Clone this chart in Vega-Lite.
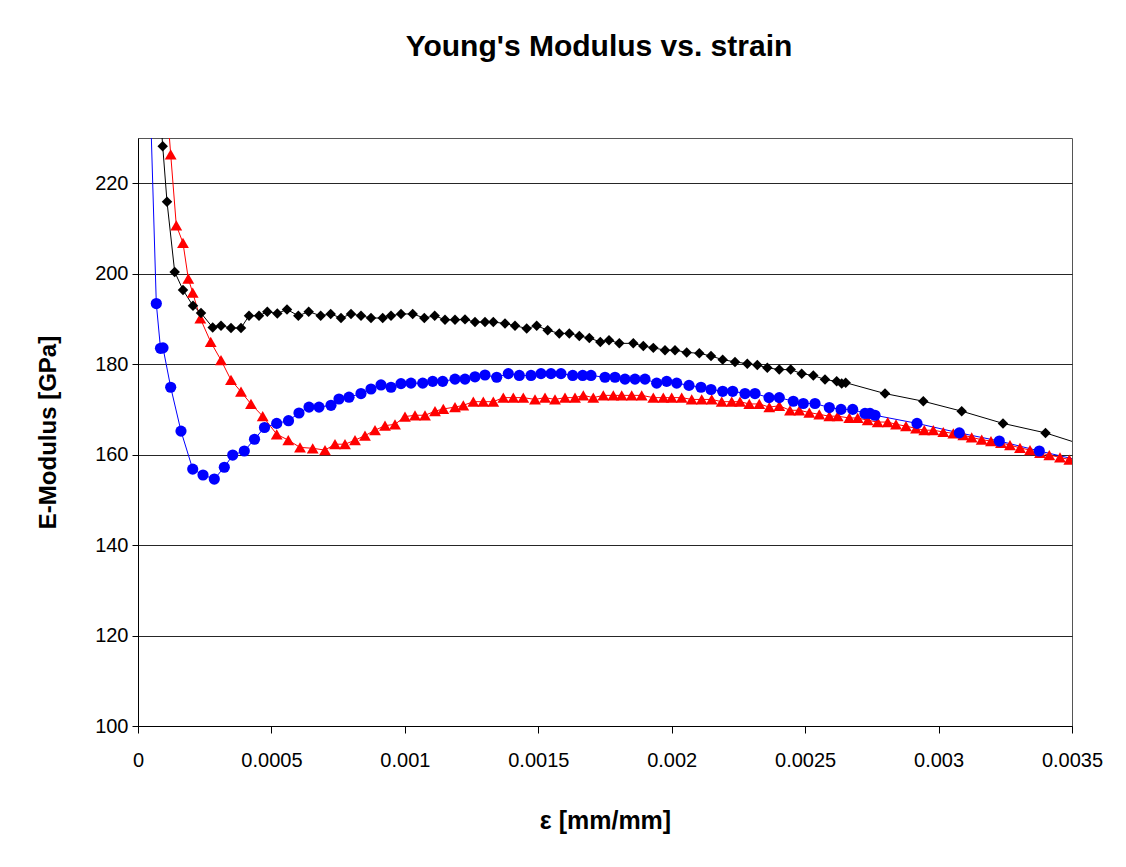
{
  "$schema": "https://vega.github.io/schema/vega-lite/v6.json",
  "width": 934,
  "height": 588,
  "autosize": {"type": "none"},
  "padding": {"left": 138, "top": 138, "right": 54, "bottom": 141},
  "background": "white",
  "title": {"text": "Young's Modulus vs. strain", "font": "Liberation Sans", "fontSize": 30, "fontWeight": "bold", "color": "#000000", "anchor": "middle", "frame": "group", "offset": 76, "dx": -6},
  "config": {
    "view": {"stroke": "#555555", "strokeWidth": 1},
    "axis": {"labelFont": "Liberation Sans", "titleFont": "Liberation Sans", "labelColor": "#000000", "titleColor": "#000000", "domainColor": "#000000", "tickColor": "#000000", "domainWidth": 1, "tickWidth": 1}
  },
  "data": {"values": [
    {"s": "red", "x": 0.0001049, "E": 240},
    {"s": "red", "x": 0.0001225, "E": 226.4},
    {"s": "red", "x": 0.0001435, "E": 210.7},
    {"s": "red", "x": 0.0001686, "E": 206.8},
    {"s": "red", "x": 0.0001885, "E": 198.9},
    {"s": "red", "x": 0.0002050, "E": 195.8},
    {"s": "red", "x": 0.0002335, "E": 190.1},
    {"s": "red", "x": 0.0002724, "E": 184.9},
    {"s": "red", "x": 0.0003110, "E": 180.9},
    {"s": "red", "x": 0.0003485, "E": 176.5},
    {"s": "red", "x": 0.0003860, "E": 173.9},
    {"s": "red", "x": 0.0004234, "E": 171.2},
    {"s": "red", "x": 0.0004673, "E": 168.5},
    {"s": "red", "x": 0.0005198, "E": 164.5},
    {"s": "red", "x": 0.0005632, "E": 163.2},
    {"s": "red", "x": 0.0006071, "E": 161.6},
    {"s": "red", "x": 0.0006547, "E": 161.4},
    {"s": "red", "x": 0.0007008, "E": 161.0},
    {"s": "red", "x": 0.0007382, "E": 162.3},
    {"s": "red", "x": 0.0007757, "E": 162.3},
    {"s": "red", "x": 0.0008132, "E": 163.2},
    {"s": "red", "x": 0.0008506, "E": 164.2},
    {"s": "red", "x": 0.0008881, "E": 165.4},
    {"s": "red", "x": 0.0009256, "E": 166.4},
    {"s": "red", "x": 0.0009631, "E": 166.7},
    {"s": "red", "x": 0.0010005, "E": 168.4},
    {"s": "red", "x": 0.0010380, "E": 168.7},
    {"s": "red", "x": 0.0010755, "E": 168.7},
    {"s": "red", "x": 0.0011130, "E": 169.6},
    {"s": "red", "x": 0.0011441, "E": 170.1},
    {"s": "red", "x": 0.0011879, "E": 170.5},
    {"s": "red", "x": 0.0012190, "E": 170.9},
    {"s": "red", "x": 0.0012565, "E": 171.7},
    {"s": "red", "x": 0.0012939, "E": 171.7},
    {"s": "red", "x": 0.0013314, "E": 171.7},
    {"s": "red", "x": 0.0013689, "E": 172.6},
    {"s": "red", "x": 0.0014064, "E": 172.6},
    {"s": "red", "x": 0.0014438, "E": 172.6},
    {"s": "red", "x": 0.0014877, "E": 172.2},
    {"s": "red", "x": 0.0015252, "E": 172.6},
    {"s": "red", "x": 0.0015626, "E": 172.2},
    {"s": "red", "x": 0.0016001, "E": 172.6},
    {"s": "red", "x": 0.0016376, "E": 172.6},
    {"s": "red", "x": 0.0016687, "E": 173.1},
    {"s": "red", "x": 0.0017061, "E": 172.6},
    {"s": "red", "x": 0.0017436, "E": 173.1},
    {"s": "red", "x": 0.0017811, "E": 173.1},
    {"s": "red", "x": 0.0018126, "E": 173.1},
    {"s": "red", "x": 0.0018500, "E": 173.1},
    {"s": "red", "x": 0.0018875, "E": 173.1},
    {"s": "red", "x": 0.0019310, "E": 172.6},
    {"s": "red", "x": 0.0019685, "E": 172.6},
    {"s": "red", "x": 0.0019999, "E": 172.6},
    {"s": "red", "x": 0.0020374, "E": 172.6},
    {"s": "red", "x": 0.0020749, "E": 172.2},
    {"s": "red", "x": 0.0021124, "E": 172.2},
    {"s": "red", "x": 0.0021498, "E": 172.2},
    {"s": "red", "x": 0.0021873, "E": 171.7},
    {"s": "red", "x": 0.0022248, "E": 171.7},
    {"s": "red", "x": 0.0022559, "E": 171.7},
    {"s": "red", "x": 0.0022907, "E": 171.2},
    {"s": "red", "x": 0.0023282, "E": 171.2},
    {"s": "red", "x": 0.0023657, "E": 170.5},
    {"s": "red", "x": 0.0024031, "E": 170.8},
    {"s": "red", "x": 0.0024432, "E": 169.8},
    {"s": "red", "x": 0.0024781, "E": 169.8},
    {"s": "red", "x": 0.0025156, "E": 169.3},
    {"s": "red", "x": 0.0025530, "E": 168.9},
    {"s": "red", "x": 0.0025905, "E": 168.5},
    {"s": "red", "x": 0.0026220, "E": 168.5},
    {"s": "red", "x": 0.0026655, "E": 168.1},
    {"s": "red", "x": 0.0026969, "E": 168.1},
    {"s": "red", "x": 0.0027344, "E": 167.6},
    {"s": "red", "x": 0.0027719, "E": 167.2},
    {"s": "red", "x": 0.0028094, "E": 167.2},
    {"s": "red", "x": 0.0028405, "E": 166.7},
    {"s": "red", "x": 0.0028779, "E": 166.3},
    {"s": "red", "x": 0.0029154, "E": 165.8},
    {"s": "red", "x": 0.0029465, "E": 165.4},
    {"s": "red", "x": 0.0029802, "E": 165.4},
    {"s": "red", "x": 0.0030177, "E": 165.0},
    {"s": "red", "x": 0.0030552, "E": 164.7},
    {"s": "red", "x": 0.0030926, "E": 164.3},
    {"s": "red", "x": 0.0031241, "E": 163.8},
    {"s": "red", "x": 0.0031616, "E": 163.3},
    {"s": "red", "x": 0.0031964, "E": 163.0},
    {"s": "red", "x": 0.0032339, "E": 162.6},
    {"s": "red", "x": 0.0032676, "E": 162.1},
    {"s": "red", "x": 0.0033051, "E": 161.5},
    {"s": "red", "x": 0.0033426, "E": 161.0},
    {"s": "red", "x": 0.0033801, "E": 160.4},
    {"s": "red", "x": 0.0034149, "E": 159.9},
    {"s": "red", "x": 0.0034550, "E": 159.4},
    {"s": "red", "x": 0.0034899, "E": 158.9},
    {"s": "blue", "x": 0.0000450, "E": 240},
    {"s": "blue", "x": 0.0000686, "E": 193.4},
    {"s": "blue", "x": 0.0000843, "E": 183.5},
    {"s": "blue", "x": 0.0000937, "E": 183.6},
    {"s": "blue", "x": 0.0001225, "E": 174.9},
    {"s": "blue", "x": 0.0001611, "E": 165.2},
    {"s": "blue", "x": 0.0002050, "E": 156.8},
    {"s": "blue", "x": 0.0002436, "E": 155.5},
    {"s": "blue", "x": 0.0002859, "E": 154.6},
    {"s": "blue", "x": 0.0003234, "E": 157.2},
    {"s": "blue", "x": 0.0003549, "E": 159.9},
    {"s": "blue", "x": 0.0003983, "E": 160.8},
    {"s": "blue", "x": 0.0004366, "E": 163.4},
    {"s": "blue", "x": 0.0004740, "E": 166.0},
    {"s": "blue", "x": 0.0005198, "E": 166.9},
    {"s": "blue", "x": 0.0005640, "E": 167.5},
    {"s": "blue", "x": 0.0006033, "E": 169.2},
    {"s": "blue", "x": 0.0006408, "E": 170.5},
    {"s": "blue", "x": 0.0006783, "E": 170.5},
    {"s": "blue", "x": 0.0007232, "E": 170.9},
    {"s": "blue", "x": 0.0007532, "E": 172.3},
    {"s": "blue", "x": 0.0007907, "E": 172.7},
    {"s": "blue", "x": 0.0008356, "E": 173.5},
    {"s": "blue", "x": 0.0008731, "E": 174.5},
    {"s": "blue", "x": 0.0009106, "E": 175.4},
    {"s": "blue", "x": 0.0009481, "E": 174.9},
    {"s": "blue", "x": 0.0009855, "E": 175.7},
    {"s": "blue", "x": 0.0010230, "E": 175.8},
    {"s": "blue", "x": 0.0010669, "E": 175.8},
    {"s": "blue", "x": 0.0011043, "E": 176.2},
    {"s": "blue", "x": 0.0011418, "E": 176.2},
    {"s": "blue", "x": 0.0011879, "E": 176.7},
    {"s": "blue", "x": 0.0012254, "E": 176.7},
    {"s": "blue", "x": 0.0012628, "E": 177.2},
    {"s": "blue", "x": 0.0013003, "E": 177.6},
    {"s": "blue", "x": 0.0013442, "E": 177.1},
    {"s": "blue", "x": 0.0013876, "E": 177.9},
    {"s": "blue", "x": 0.0014289, "E": 177.5},
    {"s": "blue", "x": 0.0014727, "E": 177.5},
    {"s": "blue", "x": 0.0015102, "E": 177.9},
    {"s": "blue", "x": 0.0015476, "E": 177.9},
    {"s": "blue", "x": 0.0015851, "E": 177.9},
    {"s": "blue", "x": 0.0016290, "E": 177.5},
    {"s": "blue", "x": 0.0016664, "E": 177.5},
    {"s": "blue", "x": 0.0016975, "E": 177.5},
    {"s": "blue", "x": 0.0017500, "E": 177.1},
    {"s": "blue", "x": 0.0017875, "E": 177.1},
    {"s": "blue", "x": 0.0018249, "E": 176.7},
    {"s": "blue", "x": 0.0018624, "E": 176.7},
    {"s": "blue", "x": 0.0018999, "E": 176.7},
    {"s": "blue", "x": 0.0019437, "E": 175.8},
    {"s": "blue", "x": 0.0019812, "E": 176.2},
    {"s": "blue", "x": 0.0020187, "E": 175.8},
    {"s": "blue", "x": 0.0020648, "E": 175.3},
    {"s": "blue", "x": 0.0021097, "E": 174.9},
    {"s": "blue", "x": 0.0021472, "E": 174.4},
    {"s": "blue", "x": 0.0021910, "E": 174.0},
    {"s": "blue", "x": 0.0022285, "E": 174.0},
    {"s": "blue", "x": 0.0022746, "E": 173.5},
    {"s": "blue", "x": 0.0023121, "E": 173.5},
    {"s": "blue", "x": 0.0023645, "E": 172.6},
    {"s": "blue", "x": 0.0024031, "E": 172.6},
    {"s": "blue", "x": 0.0024556, "E": 171.8},
    {"s": "blue", "x": 0.0024931, "E": 171.3},
    {"s": "blue", "x": 0.0025369, "E": 171.3},
    {"s": "blue", "x": 0.0025905, "E": 170.4},
    {"s": "blue", "x": 0.0026344, "E": 170.0},
    {"s": "blue", "x": 0.0026782, "E": 170.0},
    {"s": "blue", "x": 0.0027243, "E": 169.1},
    {"s": "blue", "x": 0.0027430, "E": 169.1},
    {"s": "blue", "x": 0.0027618, "E": 168.7},
    {"s": "blue", "x": 0.0029192, "E": 166.9},
    {"s": "blue", "x": 0.0030777, "E": 164.8},
    {"s": "blue", "x": 0.0032276, "E": 163.0},
    {"s": "blue", "x": 0.0033774, "E": 160.8},
    {"s": "blue", "x": 0.0035300, "E": 158.7},
    {"s": "black", "x": 0.0000768, "E": 241},
    {"s": "black", "x": 0.0000926, "E": 228.2},
    {"s": "black", "x": 0.0001087, "E": 215.9},
    {"s": "black", "x": 0.0001375, "E": 200.4},
    {"s": "black", "x": 0.0001686, "E": 196.4},
    {"s": "black", "x": 0.0002061, "E": 192.9},
    {"s": "black", "x": 0.0002361, "E": 191.3},
    {"s": "black", "x": 0.0002799, "E": 188.1},
    {"s": "black", "x": 0.0003110, "E": 188.5},
    {"s": "black", "x": 0.0003485, "E": 188.0},
    {"s": "black", "x": 0.0003860, "E": 188.0},
    {"s": "black", "x": 0.0004160, "E": 190.7},
    {"s": "black", "x": 0.0004534, "E": 190.7},
    {"s": "black", "x": 0.0004845, "E": 191.6},
    {"s": "black", "x": 0.0005220, "E": 191.2},
    {"s": "black", "x": 0.0005583, "E": 192.1},
    {"s": "black", "x": 0.0006007, "E": 190.7},
    {"s": "black", "x": 0.0006397, "E": 191.6},
    {"s": "black", "x": 0.0006846, "E": 190.7},
    {"s": "black", "x": 0.0007221, "E": 191.1},
    {"s": "black", "x": 0.0007607, "E": 190.2},
    {"s": "black", "x": 0.0007982, "E": 191.1},
    {"s": "black", "x": 0.0008356, "E": 190.7},
    {"s": "black", "x": 0.0008731, "E": 190.2},
    {"s": "black", "x": 0.0009170, "E": 190.2},
    {"s": "black", "x": 0.0009481, "E": 190.7},
    {"s": "black", "x": 0.0009855, "E": 191.1},
    {"s": "black", "x": 0.0010294, "E": 191.1},
    {"s": "black", "x": 0.0010729, "E": 190.2},
    {"s": "black", "x": 0.0011118, "E": 190.7},
    {"s": "black", "x": 0.0011504, "E": 189.8},
    {"s": "black", "x": 0.0011879, "E": 189.8},
    {"s": "black", "x": 0.0012254, "E": 189.9},
    {"s": "black", "x": 0.0012628, "E": 189.3},
    {"s": "black", "x": 0.0013003, "E": 189.3},
    {"s": "black", "x": 0.0013314, "E": 189.3},
    {"s": "black", "x": 0.0013753, "E": 189.0},
    {"s": "black", "x": 0.0014127, "E": 188.5},
    {"s": "black", "x": 0.0014566, "E": 187.9},
    {"s": "black", "x": 0.0014941, "E": 188.5},
    {"s": "black", "x": 0.0015353, "E": 187.5},
    {"s": "black", "x": 0.0015787, "E": 186.8},
    {"s": "black", "x": 0.0016162, "E": 186.8},
    {"s": "black", "x": 0.0016537, "E": 186.2},
    {"s": "black", "x": 0.0016912, "E": 185.8},
    {"s": "black", "x": 0.0017324, "E": 184.9},
    {"s": "black", "x": 0.0017650, "E": 185.3},
    {"s": "black", "x": 0.0018036, "E": 184.6},
    {"s": "black", "x": 0.0018560, "E": 184.6},
    {"s": "black", "x": 0.0018935, "E": 184.0},
    {"s": "black", "x": 0.0019310, "E": 183.6},
    {"s": "black", "x": 0.0019748, "E": 183.1},
    {"s": "black", "x": 0.0020123, "E": 183.1},
    {"s": "black", "x": 0.0020561, "E": 182.6},
    {"s": "black", "x": 0.0021034, "E": 182.4},
    {"s": "black", "x": 0.0021472, "E": 181.8},
    {"s": "black", "x": 0.0021910, "E": 181.0},
    {"s": "black", "x": 0.0022371, "E": 180.5},
    {"s": "black", "x": 0.0022832, "E": 180.1},
    {"s": "black", "x": 0.0023207, "E": 179.8},
    {"s": "black", "x": 0.0023582, "E": 179.2},
    {"s": "black", "x": 0.0024031, "E": 178.8},
    {"s": "black", "x": 0.0024459, "E": 178.8},
    {"s": "black", "x": 0.0024871, "E": 177.9},
    {"s": "black", "x": 0.0025306, "E": 177.5},
    {"s": "black", "x": 0.0025744, "E": 176.6},
    {"s": "black", "x": 0.0026182, "E": 176.2},
    {"s": "black", "x": 0.0026370, "E": 175.7},
    {"s": "black", "x": 0.0026520, "E": 175.9},
    {"s": "black", "x": 0.0027992, "E": 173.5},
    {"s": "black", "x": 0.0029428, "E": 171.8},
    {"s": "black", "x": 0.0030867, "E": 169.6},
    {"s": "black", "x": 0.0032414, "E": 166.9},
    {"s": "black", "x": 0.0034007, "E": 164.8},
    {"s": "black", "x": 0.0035599, "E": 161.8}
  ]},
  "encoding": {
    "x": {
      "field": "x", "type": "quantitative",
      "scale": {"domain": [0, 0.0035], "nice": false, "zero": false},
      "axis": {
        "values": [0, 0.0005, 0.001, 0.0015, 0.002, 0.0025, 0.003, 0.0035],
        "format": "~g", "grid": false, "tickSize": 7, "labelPadding": 17,
        "labelFontSize": 20, "labelFlush": false, "labelOverlap": false,
        "title": "ε [mm/mm]", "titleFontSize": 25, "titleFontWeight": "bold", "titlePadding": 38
      }
    },
    "y": {
      "field": "E", "type": "quantitative",
      "scale": {"domain": [100, 230], "nice": false, "zero": false},
      "axis": {
        "values": [100, 120, 140, 160, 180, 200, 220],
        "grid": true, "gridColor": "#000000", "gridWidth": 1, "gridOpacity": 0.85,
        "tickSize": 6, "labelPadding": 4, "labelFontSize": 20,
        "title": "E-Modulus [GPa]", "titleFontSize": 24, "titleFontWeight": "bold", "titlePadding": 34
      }
    },
    "color": {
      "field": "s", "type": "nominal",
      "scale": {"domain": ["red", "blue", "black"], "range": ["#FF0000", "#0000FF", "#000000"]},
      "legend": null
    }
  },
  "layer": [
    {"mark": {"type": "line", "strokeWidth": 1, "clip": true}},
    {
      "mark": {"type": "point", "filled": true, "opacity": 1, "strokeWidth": 0, "clip": true},
      "encoding": {
        "shape": {"field": "s", "type": "nominal", "scale": {"domain": ["red", "blue", "black"], "range": ["triangle-up", "circle", "diamond"]}, "legend": null},
        "size": {"field": "s", "type": "nominal", "scale": {"domain": ["red", "blue", "black"], "range": [140, 110, 100]}, "legend": null}
      }
    }
  ]
}
